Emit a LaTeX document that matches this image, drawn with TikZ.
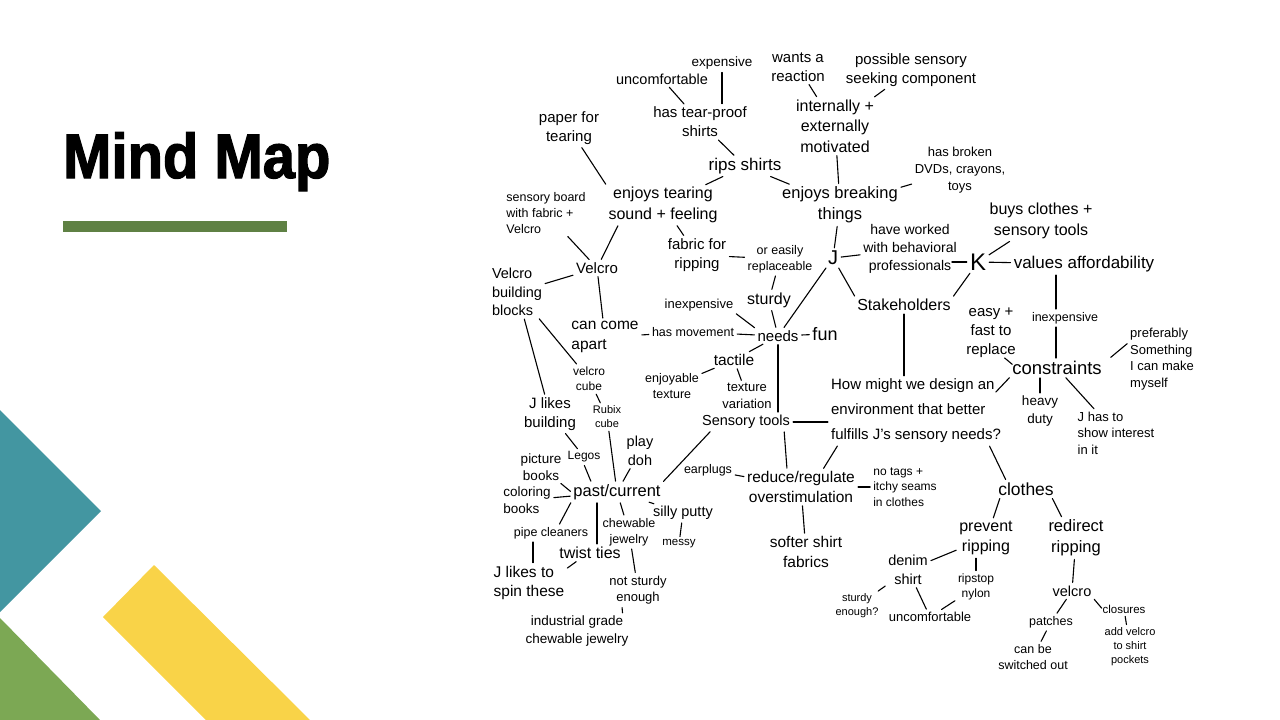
\documentclass[tikz,border=0pt]{standalone}
\usepackage{fontspec}
\setmainfont{Liberation Sans}
\newfontfamily\titlefont[FakeStretch=0.92,BoldFeatures={RawFeature={embolden=2}}]{Liberation Sans}
\usepackage{tikz}
\usetikzlibrary{positioning}

\definecolor{tealC}{RGB}{67,150,161}
\definecolor{leafC}{RGB}{124,168,84}
\definecolor{sunC}{RGB}{249,211,72}
\definecolor{barC}{RGB}{95,129,68}

\newcommand{\hand}[1]{\fontsize{#1}{\fpeval{1.28*#1}}\selectfont}

\tikzset{
  idea/.style={align=center, font=\hand{#1}},
  idea/.default=15,
  link/.style={line width=1.1pt, line cap=round, shorten <=1pt, shorten >=1pt}
}

\begin{document}
\begin{tikzpicture}[x=1pt, y=-1pt, every node/.style={inner sep=2pt}]
    \useasboundingbox (0,0) rectangle (1280,720);

    % slide decoration
    \fill[tealC] (0,410) -- (101,511) -- (0,612) -- cycle;
    \fill[leafC] (0,618) -- (100,720) -- (0,720) -- cycle;
    \fill[sunC] (154,565) -- (310,720) -- (206,720) -- (103,617) -- cycle;
    \fill[barC] (63,221) rectangle (287,232);
    \node[anchor=base west, inner sep=0pt, font={\titlefont\bfseries\fontsize{63}{70}\selectfont}] (title) at (63,178) {Mind Map};

    % nodes, top
    \node[idea=13.5] (exp) at (722,63) {expensive};
    \node[idea=14.5] (uncomfA) at (662,79) {uncomfortable};
    \node[idea=15] (tearproof) at (700,122) {has tear-proof\\shirts};
    \node[idea=15] (wants) at (798,67) {wants a\\reaction};
    \node[idea=15] (possible) at (911,70) {possible sensory\\seeking component};
    \node[idea=16] (motiv) at (835,126) {internally +\\externally\\motivated};
    \node[idea=17] (rips) at (745,166) {rips shirts};
    \node[idea=15] (paper) at (569,128) {paper for\\tearing};
    \node[idea=16] (tearing) at (663,205) {enjoys tearing\\sound + feeling};
    \node[idea=16.5] (breaking) at (840,205) {enjoys breaking\\things};
    \node[idea=13] (broken) at (960,170) {has broken\\DVDs, crayons,\\toys};
    \node[idea=12.5, align=left] (board) at (546,213) {sensory board\\with fabric +\\Velcro};
    \node[idea=16] (buys) at (1041,221) {buys clothes +\\sensory tools};

    % nodes, middle
    \node[idea=15] (velcro) at (597,268) {Velcro};
    \node[idea=15] (fabric) at (697,255) {fabric for\\ripping};
    \node[idea=12.5] (replace) at (780,259) {or easily\\replaceable};
    \node[idea=20] (J) at (833,258) {J};
    \node[idea=14] (worked) at (910,249) {have worked\\with behavioral\\professionals};
    \node[idea=24] (K) at (978,262) {K};
    \node[idea=17] (afford) at (1084,264) {values affordability};
    \node[idea=14.5, align=left] (vblocks) at (517,292) {Velcro\\building\\blocks};
    \node[idea=13] (inexpA) at (699,305) {inexpensive};
    \node[idea=16] (sturdy) at (769,300) {sturdy};
    \node[idea=16] (stake) at (904,305) {Stakeholders};
    \node[idea=15] (easy) at (991,333) {easy +\\fast to\\replace};
    \node[idea=12.5] (inexpB) at (1065,318) {inexpensive};
    \node[idea=15.5, align=left] (apart) at (605,337) {can come\\apart};
    \node[idea=12.5] (movement) at (693,332) {has movement};
    \node[idea=15] (needs) at (778,336) {needs};
    \node[idea=18] (fun) at (825,334) {fun};
    \node[idea=12] (vcube) at (589,379) {velcro\\cube};
    \node[idea=15.5] (tactile) at (734,360) {tactile};
    \node[idea=12.5] (enjoyable) at (672,386) {enjoyable\\texture};
    \node[idea=13] (variation) at (747,396) {texture\\variation};
    \node[align=left, font=\fontsize{15}{25}\selectfont] (hmw) at (916,411) {How might we design an\\environment that better\\fulfills J's sensory needs?};
    \node[idea=18.5] (constr) at (1057,368) {constraints};
    \node[idea=13, align=left] (prefer) at (1162,359) {preferably\\Something\\I can make\\myself};
    \node[idea=15] (jbuild) at (550,414) {J likes\\building};
    \node[idea=11] (rubix) at (607,417) {Rubix\\cube};
    \node[idea=13.5] (heavy) at (1040,411) {heavy\\duty};
    \node[idea=13, align=left] (interest) at (1116,433) {J has to\\show interest\\in it};
    \node[idea=14.5] (tools) at (746,422) {Sensory tools};

    % nodes, bottom
    \node[idea=14.5] (playdoh) at (640,451) {play\\doh};
    \node[idea=13.5] (picture) at (541,467) {picture\\books};
    \node[idea=12] (legos) at (584,457) {Legos};
    \node[idea=12.5] (earplugs) at (708,470) {earplugs};
    \node[idea=15.5] (reduce) at (801,487) {reduce/regulate\\overstimulation};
    \node[idea=12, align=left] (notags) at (905,487) {no tags +\\itchy seams\\in clothes};
    \node[idea=13.5, align=left] (coloring) at (527,500) {coloring\\books};
    \node[idea=16.5] (past) at (617,492) {past/current};
    \node[idea=14.5] (putty) at (683,513) {silly putty};
    \node[idea=17.5] (clothes) at (1026,489) {clothes};
    \node[idea=12.5] (chewable) at (629,532) {chewable\\jewelry};
    \node[idea=11.5] (messy) at (679,544) {messy};
    \node[idea=12.5] (pipe) at (551,533) {pipe cleaners};
    \node[idea=16] (twist) at (590,553) {twist ties};
    \node[idea=15.5] (softer) at (806,552) {softer shirt\\fabrics};
    \node[idea=16] (prevent) at (986,538) {prevent\\ripping};
    \node[idea=16.5] (redirect) at (1076,538) {redirect\\ripping};
    \node[idea=15.5, align=left] (spin) at (529,583) {J likes to\\spin these};
    \node[idea=14.5] (denim) at (908,570) {denim\\shirt};
    \node[idea=12] (ripstop) at (976,587) {ripstop\\nylon};
    \node[idea=13] (notsturdy) at (638,590) {not sturdy\\enough};
    \node[idea=14.5] (velcroB) at (1072,591) {velcro};
    \node[idea=11] (sturdyq) at (857,606) {sturdy\\enough?};
    \node[idea=13] (uncomfB) at (930,617) {uncomfortable};
    \node[idea=12.5] (patches) at (1051,622) {patches};
    \node[idea=11.5] (closures) at (1124,609) {closures};
    \node[idea=13.5] (industrial) at (577,631) {industrial grade\\chewable jewelry};
    \node[idea=12.5] (switched) at (1033,657) {can be\\switched out};
    \node[idea=11] (pockets) at (1130,647) {add velcro\\to shirt\\pockets};

    % links, top
    \draw[link] (uncomfA) -- (tearproof);
    \draw[link] (exp) -- (exp |- tearproof.north);
    \draw[link] (tearproof) -- (rips);
    \draw[link] (wants) -- (motiv);
    \draw[link] (possible) -- (motiv);
    \draw[link] (motiv) -- (breaking);
    \draw[link] (rips) -- (breaking);
    \draw[link] (broken) -- (breaking);
    \draw[link] (rips) -- (tearing);
    \draw[link] (paper) -- (tearing.north west);
    \draw[link] (board) -- (velcro);
    \draw[link] ([xshift=12pt]tearing.south west) -- (velcro);
    \draw[link] (tearing) -- (fabric);
    \draw[link] (fabric) -- (replace);
    \draw[link] (replace) -- (sturdy);

    % links, stakeholders
    \draw[link] (breaking) -- (J);
    \draw[link] (J) -- (worked);
    \draw[link] ([xshift=-8pt]K.west -| worked.east) -- (K.west);
    \draw[link] (K) -- (buys);
    \draw[link] (K) -- (afford);
    \draw[link] (J) -- (stake.north west);
    \draw[link] (K) -- (stake.north east);
    \draw[link] ([xshift=-9pt]inexpB.north) -- ([xshift=-9pt]inexpB.north |- afford.south);

    % links, needs
    \draw[link] (sturdy) -- (needs);
    \draw[link] (J) -- (needs);
    \draw[link] (inexpA.south east) -- (needs.north west);
    \draw[link] (movement) -- (needs);
    \draw[link] (needs) -- (fun);
    \draw[link] (apart) -- (movement);
    \draw[link] (velcro) -- (apart);
    \draw[link] (velcro) -- (vblocks);
    \draw[link] (vblocks) -- (jbuild);
    \draw[link] (vblocks) -- (vcube);
    \draw[link] (vcube) -- (rubix);
    \draw[link] (needs) -- (tactile);
    \draw[link] (tactile) -- (enjoyable);
    \draw[link] (tactile) -- (variation);
    \draw[link] (needs) -- (needs |- tools.north);

    % links, question
    \draw[link] (tools) -- (tools -| hmw.west);
    \draw[link] (stake) -- (stake |- hmw.north);
    \draw[link] (constr.south west) -- ([xshift=-8pt,yshift=-16pt]hmw.north east);
    \draw[link] ([xshift=-14pt,yshift=3pt]easy.south east) -- ([xshift=3pt,yshift=-6pt]constr.north west);
    \draw[link] ([xshift=-9pt]inexpB.south) -- ([xshift=-9pt]inexpB.south |- constr.north);
    \draw[link] ([xshift=6pt,yshift=1pt]constr.north east) -- ([yshift=16pt]prefer.west);
    \draw[link] (heavy) -- (heavy |- constr.south);
    \draw[link] (constr) -- (interest);
    \draw[link] ([xshift=-14pt]hmw.south east) -- ([xshift=10pt]clothes.north west);
    \draw[link] ([xshift=9pt]hmw.south west) -- ([xshift=-34pt]reduce.north east);

    % links, sensory tools
    \draw[link] ([xshift=-8pt]tools.south east) -- ([xshift=-14pt]reduce.north);
    \draw[link] (earplugs) -- (reduce);
    \draw[link] (reduce) -- (notags);
    \draw[link] (reduce) -- (softer);
    \draw[link] ([xshift=11pt]tools.south west) -- (past.north east);
    \draw[link] (playdoh) -- (past);
    \draw[link] (rubix) -- (past);
    \draw[link] (jbuild) -- (legos);
    \draw[link] (legos.south) -- ([xshift=20pt]past.north west);
    \draw[link] (picture) -- (past.west);
    \draw[link] (coloring) -- (past);
    \draw[link] (past.south west) -- ([xshift=8pt]pipe.north);
    \draw[link] ([xshift=-18pt]pipe.south) -- ([xshift=-18pt]pipe.south |- spin.north);
    \draw[link] ([xshift=-20pt]past.south) -- ([xshift=-20pt]past.south |- twist.north);
    \draw[link] ([xshift=-13pt]twist.south) -- ([yshift=-5pt]spin.north east);
    \draw[link] (past) -- (chewable);
    \draw[link] (past) -- (putty);
    \draw[link] (putty) -- (messy);
    \draw[link] (chewable) -- (notsturdy);
    \draw[link] ([xshift=-16pt]notsturdy.south) -- ([xshift=-8pt]industrial.north east);

    % links, clothes
    \draw[link] ([xshift=4pt]clothes.south west) -- ([xshift=7pt]prevent.north);
    \draw[link] ([xshift=-4pt]clothes.south east) -- ([xshift=-14pt]redirect.north);
    \draw[link] (prevent) -- (denim);
    \draw[link] (ripstop) -- (ripstop |- prevent.south);
    \draw[link] (denim) -- (sturdyq);
    \draw[link] (denim) -- (uncomfB);
    \draw[link] (ripstop) -- (uncomfB);
    \draw[link] (redirect) -- (velcroB);
    \draw[link] (velcroB) -- (patches);
    \draw[link] (velcroB.south east) -- ([xshift=2pt]closures.west);
    \draw[link] (patches) -- (switched);
    \draw[link] (closures) -- (pockets);
\end{tikzpicture}
\end{document}
